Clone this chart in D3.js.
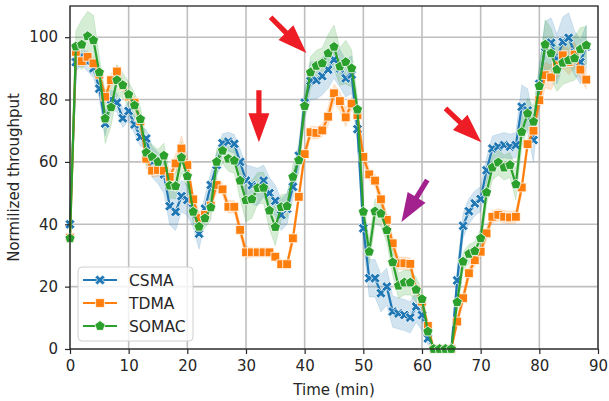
<!DOCTYPE html>
<html lang="en">
<head>
<meta charset="UTF-8">
<title>Normalized throughput over time</title>
<script src="https://cdn.jsdelivr.net/npm/d3@7"></script>
<style>
  body { margin: 0; background: #fff; }
  text { font-family: "DejaVu Sans", sans-serif; fill: #262626; }
</style>
</head>
<body>
<svg id="chart" width="609" height="401"></svg>
<script>
// minutes 0..88, one sample per minute
const minutes = d3.range(0, 89);

const csma = [40, 92, 94, 92, 90, 83.5, 72.3, 80, 79, 74,
  76.3, 72, 68, 67.5, 60, 58, 56, 45.8, 44, 49,
  47.8, 44, 37, 45, 52.6, 59, 66, 66.5, 65.8, 60,
  54, 52.5, 52, 54, 50, 47.5, 43, 45, 52, 62,
  79, 86, 86.2, 87.5, 89.6, 92.8, 90, 86.8, 88, 70.5,
  38.7, 22.7, 22.7, 17.9, 20, 12, 11.4, 10.9, 10.1, 13.6,
  10.9, 3.4, 0, 0, 0, 0, 22, 39.5, 44.2, 46.7,
  48.1, 57.3, 64.3, 64.9, 65.4, 64.9, 65.4, 77.7, 76.5, 67,
  85, 97, 98.2, 93, 98.5, 99.8, 95, 92, 97];

const tdma = [35.7, 95.3, 92.3, 93.7, 91.6, 88, 80.9, 86.2, 89, 84.3,
  81, 79, 73, 61, 57.2, 57.4, 57.2, 55.2, 59.5, 64.3,
  59, 48, 42, 43, 46, 52.6, 51.2, 45.6, 45.6, 38.2,
  31, 31, 31, 31, 31, 29.6, 27.2, 27.2, 35.5, 48.8,
  62.5, 69.5, 69.3, 70.1, 74.5, 82, 79.5, 74.3, 78.7, 75,
  61.6, 56, 54, 48, 41.4, 33.9, 27.5, 27.5, 27.3, 19,
  15.2, 7.4, 0, 0, 0, 0, 8.8, 16.3, 24.3, 28.5,
  31.2, 37.1, 42.4, 43, 42.4, 42.2, 42.4, 51.8, 65.7, 70,
  79.8, 87.8, 87.1, 91, 94.2, 92, 94.4, 89.6, 86.4];

const somac = [35.5, 97, 97.6, 100.3, 99, 88.7, 73.9, 77.5, 86.2, 84.6,
  81.6, 78.1, 73.7, 63, 61.6, 60, 62, 52.4, 52.2, 61.4,
  55.4, 44, 39.2, 41.9, 45.4, 60, 63.6, 61, 60.4, 54,
  47.7, 48, 51.6, 51.7, 44.4, 39.1, 45.5, 45.8, 55.2, 60.5,
  77.9, 88.7, 90.8, 91.6, 94.8, 96.9, 90.6, 92, 90, 76.8,
  44, 31.2, 44.1, 43.4, 38.1, 27.8, 20.3, 21.3, 21.3, 19,
  16, 5.6, 0, 0, 0, 0, 15, 28, 30.5, 31.4,
  35.5, 50.2, 58.2, 59.8, 58.2, 59, 52.8, 69.6, 75.5, 72.9,
  84.3, 97.6, 94.8, 89.6, 91.8, 92.6, 93.2, 96.1, 97.4];

// half width of the shaded confidence band
const csmaCi = [2, 3, 3, 3, 3, 3, 4, 3, 3, 3,
  3, 3, 3, 3, 5, 5, 6, 6, 6, 5,
  5, 5, 5, 4, 4, 4, 3, 3, 3, 4,
  5, 6, 6, 5, 5, 5, 5, 5, 4, 4,
  5, 6, 6, 6, 6, 6, 6, 6, 6, 5,
  5, 6, 6, 6, 6, 5, 5, 5, 5, 5,
  5, 2, 0, 0, 0, 0, 4, 4, 4, 4,
  4, 4, 4, 4, 4, 4, 4, 7, 7, 7,
  6, 8, 8, 8, 8, 8, 7, 7, 7];
const tdmaCi = [1, 2, 2, 2, 2, 2, 2, 2, 2, 2,
  2, 2, 2, 3, 2, 2, 2, 2, 3, 4,
  3, 2, 2, 2, 2, 2, 2, 2, 2, 2,
  2, 1.5, 1.5, 1.5, 1.5, 1.5, 1.5, 1.5, 2, 2,
  2, 2, 2, 2, 3, 3, 3, 3, 2, 2,
  2, 2, 2, 2, 2, 2, 2, 2, 2, 2,
  2, 1.5, 0, 0, 0, 0, 1.5, 2, 2, 2,
  2, 2, 2, 2, 2, 2, 2, 2, 2, 2,
  3, 4, 4, 4, 4, 4, 4, 3, 3];
const somacCi = [2, 5, 8, 8, 8, 5, 8, 6, 5, 4,
  4, 4, 4, 4, 4, 4, 4, 4, 4, 5,
  4, 4, 3, 3, 4, 4, 4, 4, 4, 6,
  7, 6, 5, 5, 6, 6, 4, 4, 4, 4,
  4, 5, 5, 5, 6, 7, 6, 7, 6, 4,
  3, 4, 4, 4, 4, 4, 4, 4, 4, 4,
  3, 2, 0, 0, 0, 0, 3, 3, 3, 3,
  3, 4, 4, 4, 4, 4, 5, 5, 5, 5,
  6, 8, 8, 7, 7, 7, 7, 7, 6];

const seriesNames = ["CSMA", "TDMA", "SOMAC"];
const xTicks = [0, 10, 20, 30, 40, 50, 60, 70, 80, 90];
const yTicks = [0, 20, 40, 60, 80, 100];

// arrows: [tailX, tailY, tipX, tipY] in data units
const arrowRed1 = [34.2, 106.4, 40.3, 94.9];
const arrowRed2 = [32.2, 83, 32.2, 66.3];
const arrowPurple = [60.9, 54.2, 56.5, 40.7];
const arrowRed3 = [64, 77.2, 70.1, 66.3];

const svg = d3.select("#chart");
const x = d3.scaleLinear().domain([0, 90]).range([70, 598]);
const y = d3.scaleLinear().domain([0, 110]).range([349, 6]);

// grid
svg.append("g").selectAll("line").data(xTicks).join("line")
    .attr("x1", d => x(d)).attr("x2", d => x(d))
    .attr("y1", y(110)).attr("y2", y(0))
    .attr("stroke", "#bfbfbf").attr("stroke-width", 1.6);
svg.append("g").selectAll("line").data(yTicks).join("line")
    .attr("x1", x(0)).attr("x2", x(90))
    .attr("y1", d => y(d)).attr("y2", d => y(d))
    .attr("stroke", "#bfbfbf").attr("stroke-width", 1.6);

// marker shapes
function xMarker(s) {
    const a = s, w = s * 0.32;
    const pts = [[-w, -a], [w, -a], [w, -w], [a, -w], [a, w], [w, w], [w, a], [-w, a], [-w, w], [-a, w], [-a, -w], [-w, -w]];
    const r = Math.PI / 4;
    return "M" + pts.map(p => [p[0] * Math.cos(r) - p[1] * Math.sin(r), p[0] * Math.sin(r) + p[1] * Math.cos(r)].join(",")).join("L") + "Z";
}
function squareMarker(s) {
    return `M${-s},${-s}L${s},${-s}L${s},${s}L${-s},${s}Z`;
}
function pentagonMarker(s) {
    let p = [];
    for (let k = 0; k < 5; k++) {
        const t = -Math.PI / 2 + k * 2 * Math.PI / 5;
        p.push([s * Math.cos(t), s * Math.sin(t)]);
    }
    return "M" + p.map(d => d.join(",")).join("L") + "Z";
}

const series = [
    {name: seriesNames[0], vals: csma, ci: csmaCi, color: "#1f77b4", marker: xMarker(5.4)},
    {name: seriesNames[1], vals: tdma, ci: tdmaCi, color: "#ff7f0e", marker: squareMarker(4.4)},
    {name: seriesNames[2], vals: somac, ci: somacCi, color: "#2ca02c", marker: pentagonMarker(5.4)}
];

const plot = svg.append("g");
series.forEach(s => {
    const band = d3.area()
        .x((d, i) => x(minutes[i]))
        .y0((d, i) => y(Math.max(0, d - s.ci[i])))
        .y1((d, i) => y(Math.min(110, d + s.ci[i])));
    plot.append("path").datum(s.vals)
        .attr("d", band)
        .attr("fill", s.color).attr("fill-opacity", 0.2)
        .attr("stroke", s.color).attr("stroke-opacity", 0.15);
});
series.forEach(s => {
    const line = d3.line().x((d, i) => x(minutes[i])).y(d => y(d));
    plot.append("path").datum(s.vals)
        .attr("d", line)
        .attr("fill", "none").attr("stroke", s.color).attr("stroke-width", 2.2);
    plot.append("g").selectAll("path").data(s.vals).join("path")
        .attr("transform", (d, i) => `translate(${x(minutes[i])},${y(d)})`)
        .attr("d", s.marker)
        .attr("fill", s.color).attr("stroke", "#fff").attr("stroke-width", 0.8);
});

// frame + axes
svg.append("rect")
    .attr("x", x(0)).attr("y", y(110))
    .attr("width", x(90) - x(0)).attr("height", y(0) - y(110))
    .attr("fill", "none").attr("stroke", "#262626").attr("stroke-width", 1.3);

const xAxis = svg.append("g").attr("transform", `translate(0,${y(0)})`)
    .call(d3.axisBottom(x).tickValues(xTicks).tickSize(5).tickPadding(6));
const yAxis = svg.append("g").attr("transform", `translate(${x(0)},0)`)
    .call(d3.axisLeft(y).tickValues(yTicks).tickSize(5).tickPadding(7));
[xAxis, yAxis].forEach(a => {
    a.select(".domain").remove();
    a.selectAll("line").attr("stroke", "#262626").attr("stroke-width", 1.2);
    a.selectAll("text").attr("font-size", 15).attr("font-family", "DejaVu Sans").attr("fill", "#262626");
});

svg.append("text")
    .attr("x", (x(0) + x(90)) / 2).attr("y", 395)
    .attr("text-anchor", "middle").attr("font-size", 15)
    .text("Time (min)");
svg.append("text")
    .attr("transform", `translate(19,${(y(0) + y(110)) / 2}) rotate(-90)`)
    .attr("text-anchor", "middle").attr("font-size", 15)
    .text("Normilized throughput");

// arrows
function arrowPath(a) {
    const x1 = x(a[0]), y1 = y(a[1]), x2 = x(a[2]), y2 = y(a[3]);
    const len = Math.hypot(x2 - x1, y2 - y1);
    const ux = (x2 - x1) / len, uy = (y2 - y1) / len;
    const nx = -uy, ny = ux;
    const headLen = 29, sw = 2.6, hw = 10.5;
    const bx = x2 - ux * headLen, by = y2 - uy * headLen;
    const pts = [
        [x1 + nx * sw, y1 + ny * sw],
        [bx + nx * sw, by + ny * sw],
        [bx + nx * hw, by + ny * hw],
        [x2, y2],
        [bx - nx * hw, by - ny * hw],
        [bx - nx * sw, by - ny * sw],
        [x1 - nx * sw, y1 - ny * sw]
    ];
    return "M" + pts.map(p => p.join(",")).join("L") + "Z";
}
[[arrowRed1, "#ee1c25"], [arrowRed2, "#ee1c25"], [arrowPurple, "#a3218e"], [arrowRed3, "#ee1c25"]].forEach(d => {
    svg.append("path").attr("d", arrowPath(d[0])).attr("fill", d[1]);
});

// legend
const lg = svg.append("g").attr("transform", "translate(78,267)");
lg.append("rect").attr("width", 115).attr("height", 74).attr("rx", 4)
    .attr("fill", "#fff").attr("fill-opacity", 0.8)
    .attr("stroke", "#d0d0d0").attr("stroke-width", 1);
series.forEach((s, i) => {
    const row = lg.append("g").attr("transform", `translate(0,${13 + i * 23})`);
    row.append("line").attr("x1", 5).attr("x2", 39)
        .attr("stroke", s.color).attr("stroke-width", 2.2);
    row.append("path").attr("transform", "translate(22,0)").attr("d", s.marker)
        .attr("fill", s.color).attr("stroke", "#fff").attr("stroke-width", 0.8);
    row.append("text").attr("x", 51).attr("y", 5.5).attr("font-size", 15.5).text(s.name);
});
</script>
</body>
</html>
